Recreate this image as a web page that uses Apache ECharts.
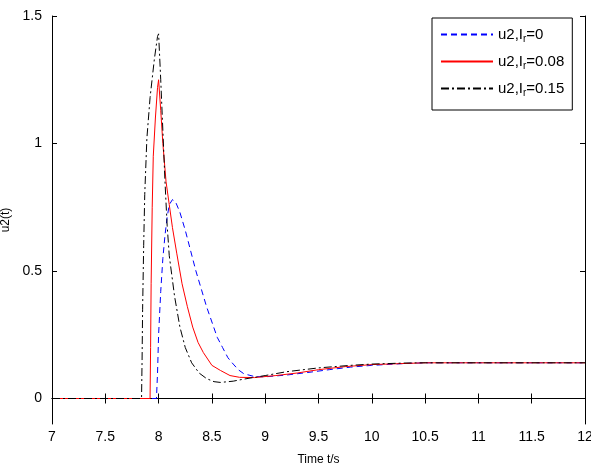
<!DOCTYPE html>
<html>
<head>
<meta charset="utf-8">
<script src="https://cdn.jsdelivr.net/npm/echarts@6/dist/echarts.min.js"></script>
<style>
  html, body { margin: 0; padding: 0; background: #fff; }
  #chart { width: 591px; height: 470px; }
</style>
</head>
<body>
<div id="chart"></div>
<script>
  // tick labels
  var xTicks = [7, 7.5, 8, 8.5, 9, 9.5, 10, 10.5, 11, 11.5, 12];
  var yTicks = [0, 0.5, 1, 1.5];

  // u2, Ir=0 (blue dashed)
  var t0 = [7, 7.98, 7.99, 8.0, 8.02, 8.04, 8.06, 8.08, 8.1, 8.13, 8.16, 8.2, 8.25, 8.3, 8.35, 8.4, 8.45, 8.5, 8.55, 8.6, 8.65, 8.7, 8.75, 8.8, 8.9, 9.0, 9.2, 9.4, 9.6, 9.8, 10, 10.3, 10.5, 11, 12];
  var v0 = [0, 0, 0.1, 0.25, 0.42, 0.55, 0.64, 0.71, 0.76, 0.78, 0.77, 0.73, 0.66, 0.58, 0.5, 0.43, 0.36, 0.3, 0.24, 0.2, 0.16, 0.135, 0.112, 0.097, 0.086, 0.085, 0.092, 0.102, 0.113, 0.123, 0.13, 0.137, 0.14, 0.14, 0.14];

  // u2, Ir=0.08 (red solid)
  var t1 = [7, 7.92, 7.925, 7.93, 7.94, 7.95, 7.97, 7.99, 8.0, 8.02, 8.04, 8.07, 8.1, 8.13, 8.17, 8.22, 8.27, 8.32, 8.37, 8.42, 8.5, 8.58, 8.67, 8.76, 8.9, 9.1, 9.3, 9.5, 9.75, 10, 10.5, 11, 12];
  var v1 = [0, 0, 0.2, 0.45, 0.75, 0.95, 1.1, 1.22, 1.25, 1.13, 1.0, 0.85, 0.76, 0.67, 0.57, 0.45, 0.36, 0.28, 0.22, 0.18, 0.13, 0.11, 0.09, 0.083, 0.082, 0.09, 0.1, 0.113, 0.125, 0.133, 0.14, 0.14, 0.14];

  // u2, Ir=0.15 (black dash-dot)
  var t2 = [7, 7.84, 7.845, 7.85, 7.86, 7.87, 7.89, 7.92, 7.96, 7.99, 8.0, 8.02, 8.04, 8.06, 8.08, 8.1, 8.15, 8.2, 8.25, 8.31, 8.38, 8.45, 8.52, 8.58, 8.7, 8.8, 9.0, 9.2, 9.5, 9.8, 10.0, 10.3, 10.5, 11, 12];
  var v2 = [0, 0, 0.15, 0.35, 0.6, 0.8, 1.02, 1.18, 1.33, 1.42, 1.43, 1.25, 1.05, 0.85, 0.68, 0.56, 0.4, 0.28, 0.2, 0.14, 0.1, 0.078, 0.066, 0.063, 0.068, 0.076, 0.09, 0.105, 0.12, 0.13, 0.135, 0.139, 0.14, 0.14, 0.14];

  var names = ['u2,Ir=0', 'u2,Ir=0.08', 'u2,Ir=0.15'];

  function pairs(t, v) {
    var out = [];
    for (var i = 0; i < t.length; i++) out.push([t[i], v[i]]);
    return out;
  }

  var font = 'Liberation Sans, Arial, sans-serif';

  var chart = echarts.init(document.getElementById('chart'));
  var option = {
    backgroundColor: '#fff',
    animation: false,
    grid: { left: 52, right: 6, top: 16, bottom: 46, outerBoundsMode: 'none' },
    legend: {
      orient: 'vertical',
      left: 432,
      top: 18,
      width: 141,
      padding: [9, 8, 12, 8],
      itemWidth: 52,
      itemHeight: 14,
      itemGap: 10,
      backgroundColor: '#fff',
      borderColor: '#000',
      borderWidth: 1,
      data: names,
      itemStyle: { opacity: 0 },
      formatter: function (name) {
        var val = name.split('=')[1];
        return '{a|u2,I}{s|r}{a|=' + val + '}';
      },
      textStyle: {
        color: '#000',
        rich: {
          a: { fontFamily: font, fontSize: 15, color: '#000' },
          s: { fontFamily: font, fontSize: 10, color: '#000', padding: [9, 0, 0, 0] }
        }
      }
    },
    xAxis: [{
      type: 'value',
      min: 7,
      max: 12,
      interval: 0.5,
      name: 'Time t/s',
      nameLocation: 'middle',
      nameGap: 30,
      nameTextStyle: { fontFamily: font, fontSize: 12, color: '#000' },
      axisLine: { lineStyle: { color: '#000', width: 1 } },
      axisTick: { inside: true, length: 5, lineStyle: { color: '#000' } },
      axisLabel: { fontFamily: font, fontSize: 14, color: '#000', margin: 6, customValues: xTicks },
      splitLine: { show: false }
    }, {
      type: 'value',
      position: 'top',
      min: 7,
      max: 12,
      interval: 0.5,
      axisLine: { lineStyle: { color: '#000', width: 1 } },
      axisTick: { inside: true, length: 5, lineStyle: { color: '#000' } },
      axisLabel: { show: false },
      splitLine: { show: false }
    }],
    yAxis: [{
      type: 'value',
      min: -0.1,
      max: 1.5,
      name: 'u2(t)',
      nameLocation: 'middle',
      nameGap: 35,
      nameTextStyle: { fontFamily: font, fontSize: 12, color: '#000' },
      axisLine: { show: true, lineStyle: { color: '#000', width: 1 } },
      axisTick: { show: true, inside: true, length: 5, lineStyle: { color: '#000' }, customValues: yTicks },
      axisLabel: { fontFamily: font, fontSize: 14, color: '#000', margin: 10, customValues: yTicks },
      splitLine: { show: false }
    }, {
      type: 'value',
      position: 'right',
      min: -0.1,
      max: 1.5,
      axisLine: { show: true, lineStyle: { color: '#000', width: 1 } },
      axisTick: { show: true, inside: true, length: 5, lineStyle: { color: '#000' }, customValues: yTicks },
      axisLabel: { show: false },
      splitLine: { show: false }
    }],
    series: [{
      name: names[0],
      type: 'line',
      symbol: 'none',
      data: pairs(t0, v0),
      itemStyle: { color: '#0000ff' },
      lineStyle: { color: '#0000ff', width: 1, type: [6, 4] }
    }, {
      name: names[1],
      type: 'line',
      symbol: 'none',
      data: pairs(t1, v1),
      itemStyle: { color: '#ff0000' },
      lineStyle: { color: '#ff0000', width: 1 }
    }, {
      name: names[2],
      type: 'line',
      symbol: 'none',
      data: pairs(t2, v2),
      itemStyle: { color: '#000' },
      lineStyle: { color: '#000', width: 1, type: [8, 3, 2, 3] }
    }]
  };
  chart.setOption(option);
</script>
</body>
</html>
